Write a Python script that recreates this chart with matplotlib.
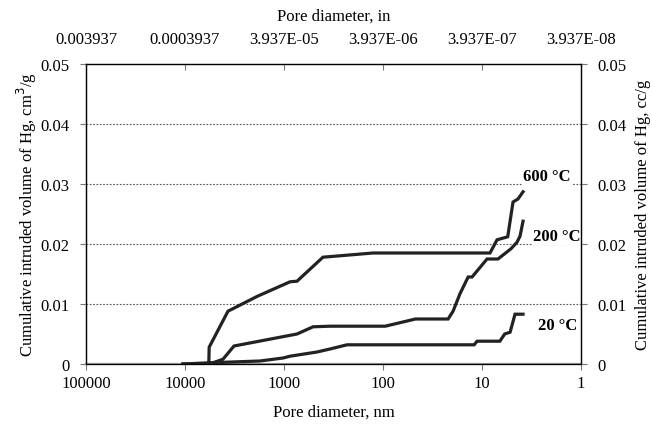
import matplotlib
matplotlib.use('Agg')
import matplotlib.pyplot as plt
from matplotlib.ticker import NullLocator, FixedLocator

plt.rcParams['font.family'] = ['Liberation Serif', 'DejaVu Serif']

# pore diameter (nm) / cumulative intruded volume (cm3/g)
d600 = [10500, 5750, 5700, 3680, 1850, 869, 739, 404, 126, 8.3, 7.05, 5.5, 4.86, 4.33, 3.85]
v600 = [0, 0, 0.0028, 0.0088, 0.0113, 0.0137, 0.0138, 0.0178, 0.0185, 0.0185, 0.0207, 0.0212, 0.0270, 0.0275, 0.0287]

d200 = [5700, 4640, 4130, 3200, 739, 509, 343, 95, 47, 22, 19.6, 16.7, 13.8, 12.6, 8.9, 6.9, 5.1, 4.43, 4.13, 3.85]
v200 = [0, 0.0005, 0.0008, 0.0030, 0.0050, 0.0062, 0.0063, 0.0063, 0.0075, 0.0075, 0.0088, 0.0117, 0.0145, 0.0145,
        0.0175, 0.0175, 0.0192, 0.0203, 0.0213, 0.0238]

d20 = [10500, 5700, 1750, 1023, 869, 464, 343, 231, 12.0, 11.2, 6.6, 5.9, 5.2, 4.64, 3.85]
v20 = [0, 0.0002, 0.0005, 0.0010, 0.0013, 0.0020, 0.0025, 0.0032, 0.0032, 0.0038, 0.0038, 0.0050, 0.0053, 0.0083, 0.0083]

series_labels = ['600 \u00b0C', '200 \u00b0C', '20 \u00b0C']

nm_ticks = [100000, 10000, 1000, 100, 10, 1]
nm_labels = ['100000', '10000', '1000', '100', '10', '1']
in_labels = ['0.003937', '0.0003937', '3.937E-05', '3.937E-06', '3.937E-07', '3.937E-08']
y_ticks = [0, 0.01, 0.02, 0.03, 0.04, 0.05]
y_labels = ['0', '0.01', '0.02', '0.03', '0.04', '0.05']

fs = 12
col = '#222222'

fig = plt.figure(figsize=(6.52, 4.31), dpi=100)
ax = fig.add_axes([86/652, 66/431, 495/652, 300/431])

ax.set_xscale('log')
ax.set_xlim(1e5, 1)
ax.set_ylim(0, 0.05)

for y in y_ticks[1:-1]:
	ax.axhline(y, color='#555555', lw=0.8, ls=(0, (1.5, 1.5)), zorder=1)

ax.plot(d600, v600, color=col, lw=2.3, solid_joinstyle='miter', zorder=3)
ax.plot(d200, v200, color=col, lw=2.3, solid_joinstyle='miter', zorder=3)
ax.plot(d20, v20, color=col, lw=2.3, solid_joinstyle='miter', zorder=3)

ax.xaxis.set_major_locator(FixedLocator(nm_ticks))
ax.xaxis.set_minor_locator(NullLocator())
ax.set_xticklabels(nm_labels, fontsize=fs)
ax.set_yticks(y_ticks)
ax.set_yticklabels(y_labels, fontsize=fs)
ax.tick_params(axis='x', direction='out', length=4, width=0.8, color='#777777', pad=4)
ax.tick_params(axis='y', direction='out', length=4, width=0.8, color='#777777', pad=8)
ax.set_xlabel('Pore diameter, nm', fontsize=fs, labelpad=9)
ax.set_ylabel('Cumulative intruded volume of Hg, cm$^3$/g', fontsize=fs, labelpad=1)

for s in ax.spines.values():
	s.set_color('#666666')
	s.set_linewidth(1.0)
ax.spines['bottom'].set_color('#999999')
ax.spines['bottom'].set_linewidth(1.6)

# top axis in inches
axt = ax.twiny()
axt.set_xscale('log')
axt.set_xlim(ax.get_xlim())
axt.xaxis.set_major_locator(FixedLocator(nm_ticks))
axt.xaxis.set_minor_locator(NullLocator())
axt.set_xticklabels(in_labels, fontsize=fs)
axt.tick_params(direction='in', length=4, width=0.8, color='#777777', pad=12.5)
axt.set_xlabel('Pore diameter, in', fontsize=fs, labelpad=8)

# right axis
axr = ax.twinx()
axr.set_ylim(ax.get_ylim())
axr.set_yticks(y_ticks)
axr.set_yticklabels(y_labels, fontsize=fs)
axr.tick_params(direction='out', length=4, width=0.8, color='#777777', pad=8)
axr.set_ylabel('Cumulative intruded volume of Hg, cc/g', fontsize=fs, labelpad=6)

label_pos = [(2.2, 0.0313), (1.75, 0.0214), (1.72, 0.0065)]
for lab, (x, y) in zip(series_labels, label_pos):
	ax.text(x, y, lab, fontsize=fs, fontweight='bold', ha='center', va='center', clip_on=False, zorder=2,
		bbox=dict(facecolor='white', edgecolor='none', pad=1))

fig.savefig('out.png', dpi=100)
